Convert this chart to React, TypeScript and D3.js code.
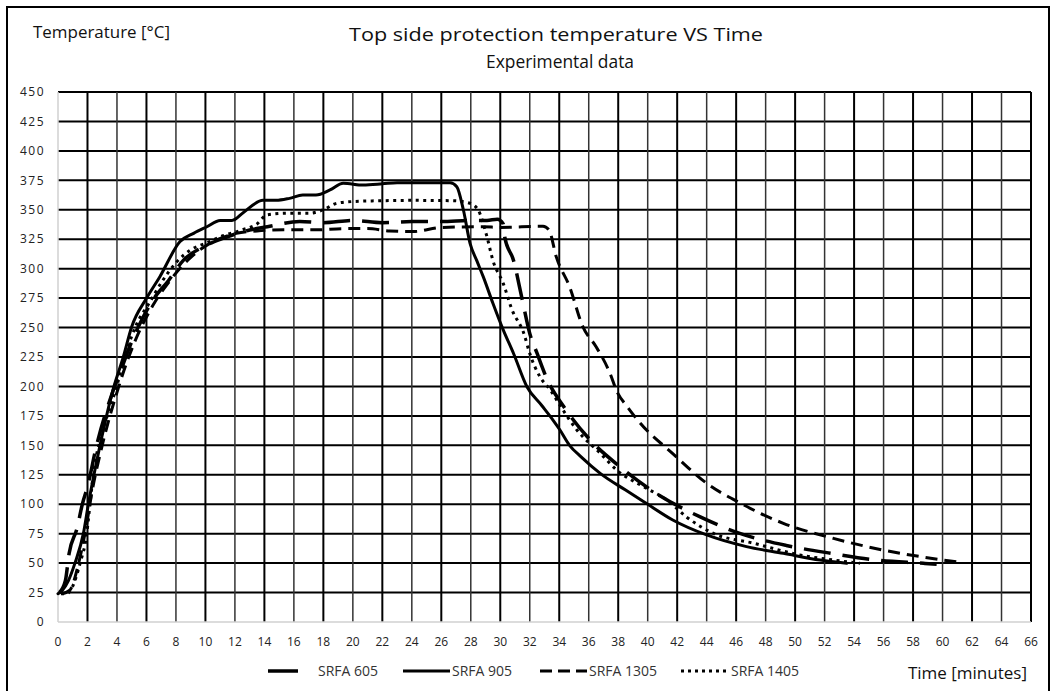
import React from "react";
import * as d3 from "d3";

const xTicks = d3.range(0, 67, 2);
const yTicks = d3.range(0, 451, 25);

const t605 = [0.1, 0.5, 0.75, 1.3, 1.65, 2.0, 2.62, 3.7, 4.3, 4.9, 5.5, 6.47, 7.5, 8.5, 9.86, 11.2, 13, 14.2, 16.4, 18, 20, 22, 24, 26, 28, 29.1, 29.8, 30.2, 30.3, 30.9, 31.5, 32.0, 32.5, 33.2, 34.3, 36.1, 38.1, 40.6, 43.6, 46.3, 49.4, 52.6, 55.5, 58.7, 59.6];
const v605 = [25, 35, 58, 80, 100, 115, 150, 195, 215, 235, 252, 274, 290, 307, 318.6, 325.8, 332.8, 335.6, 340, 339, 341, 339, 340, 340, 341, 341, 342, 338, 327, 307, 273, 245, 228, 205.5, 183, 154.5, 132, 109, 89, 75, 65, 58, 52.6, 49.8, 49];

const t905 = [0, 0.3, 0.7, 1.15, 1.72, 2.06, 2.85, 3.75, 4.43, 5.0, 6.0, 6.9, 8.28, 9.2, 10.1, 11.0, 11.8, 12.6, 13.9, 14.8, 15.7, 16.6, 17.5, 18.45, 19.35, 20.7, 22, 23, 25, 26.6, 27.05, 27.5, 27.95, 28.4, 28.85, 29.5, 30.2, 30.9, 31.8, 32.8, 33.6, 34.05, 34.7, 35.5, 36.8, 38.5, 39.9, 41.7, 44, 46.7, 49.2, 51.7, 53.5];
const v905 = [24, 27, 35, 50, 75, 100, 150, 198, 225, 250.7, 274.8, 293, 323, 330, 335.6, 341, 341, 348, 358, 358, 359.7, 362.5, 362.5, 366.8, 372.5, 371, 372, 373, 373, 373, 369.6, 349.8, 321.5, 307, 293, 270.6, 248, 228, 200, 184, 171, 163, 150, 140, 126, 112, 100.8, 86.6, 73.9, 64, 58.3, 52.6, 49.8];

const t1305 = [0.3, 0.8, 1.4, 1.9, 2.3, 3.0, 4.0, 4.8, 5.45, 6.4, 7.6, 8.95, 10.3, 12.1, 13.5, 15.3, 17.55, 19.35, 21, 22.5, 24.1, 26, 28.85, 30, 32.9, 33.3, 33.8, 34.7, 35.6, 36.5, 37.45, 37.9, 38.6, 39.5, 41.7, 44, 46.3, 49.2, 52.6, 56, 58.5, 61];
const v1305 = [24, 27, 50, 80, 110, 150, 195, 225, 245, 268, 290, 309, 321.5, 330, 332, 333, 333, 334, 334, 332, 331.5, 335, 335.6, 335, 336, 333, 310, 284.7, 250.7, 233.7, 211, 196, 183, 168.7, 143, 117.8, 100.8, 83.8, 71, 61, 55.5, 51];

const t1405 = [0.2, 0.6, 0.9, 1.5, 1.95, 2.17, 2.4, 3.0, 3.98, 4.6, 5.3, 6.2, 7.0, 8.0, 9.0, 10.1, 11.2, 12.5, 13.5, 14.16, 15.5, 17, 18, 18.9, 20, 22, 24, 26.8, 27.95, 28.5, 29.1, 29.5, 30.2, 30.8, 31.6, 32.0, 32.7, 33.4, 34.0, 35.2, 36.8, 37.9, 39.7, 41.3, 42.65, 44.5, 47.2, 50.3, 52.6, 54.4];
const v1405 = [24, 24, 28, 50, 75, 100, 126, 160, 200, 228, 252, 271, 288, 305, 316, 322, 328, 333, 338, 345.6, 347, 347, 350, 355.5, 357, 357.7, 358, 357.7, 355.5, 349.8, 327, 307, 287.5, 265, 245, 228, 208, 197, 185, 163, 143, 129, 115, 103.6, 89, 75, 66.8, 57, 52.6, 49.8];

const seriesNames = ["SRFA 605", "SRFA 905", "SRFA 1305", "SRFA 1405"];

const W = 1056;
const H = 691;
const left = 58, right = 1031, top = 92, bottom = 622;
const font = "'Open Sans', 'DejaVu Sans', sans-serif";

export default function App() {
  const x = d3.scaleLinear().domain([0, 66]).range([left, right]);
  const y = d3.scaleLinear().domain([0, 450]).range([bottom, top]);
  const line = d3
    .line<[number, number]>()
    .x((d) => x(d[0]))
    .y((d) => y(d[1]))
    .curve(d3.curveMonotoneX);

  const series = [
    { name: seriesNames[0], t: t605, v: v605, dash: "27,12", legDash: "none", w: 3.5, cap: "butt" },
    { name: seriesNames[1], t: t905, v: v905, dash: "none", legDash: "none", w: 3, cap: "round" },
    { name: seriesNames[2], t: t1305, v: v1305, dash: "12,7", legDash: "12,6", w: 3, cap: "butt" },
    { name: seriesNames[3], t: t1405, v: v1405, dash: "3,4.5", legDash: "3,4", w: 3, cap: "butt" },
  ];

  const legend = [
    { x1: 268, x2: 298, tx: 318 },
    { x1: 403, x2: 450, tx: 452 },
    { x1: 540, x2: 587, tx: 589 },
    { x1: 681, x2: 729, tx: 731 },
  ];

  return (
    <svg width={W} height={H} style={{ position: "absolute", left: 0, top: 0, background: "#fff" }}>
      <rect x={0} y={0} width={W} height={H} fill="#fff" />
      <rect x={7} y={7} width={1042} height={720} fill="none" stroke="#000" strokeWidth={2} />

      <text x={33} y={38} fontFamily={font} fontSize={16} fill="#111" textLength={137} lengthAdjust="spacingAndGlyphs">
        Temperature [°C]
      </text>
      <text x={349} y={41} fontFamily={font} fontSize={18.5} fill="#111" textLength={414} lengthAdjust="spacingAndGlyphs">
        Top side protection temperature VS Time
      </text>
      <text x={486} y={68} fontFamily={font} fontSize={18.5} fill="#111" textLength={148} lengthAdjust="spacingAndGlyphs">
        Experimental data
      </text>

      {/* grid */}
      {yTicks.filter((v) => v > 0).map((v) => (
        <line key={"h" + v} x1={left} x2={right} y1={y(v)} y2={y(v)} stroke="#000" strokeWidth={2} />
      ))}
      {xTicks.filter((t) => t > 0).map((t, i) => (
        <line key={"v" + t} x1={x(t)} x2={x(t)} y1={top} y2={bottom} stroke={i % 2 === 0 ? "#000" : "#333"} strokeWidth={i % 2 === 0 ? 2 : 1.5} />
      ))}
      <line x1={left} x2={right} y1={bottom} y2={bottom} stroke="#d0d0d0" strokeWidth={1.5} />
      <line x1={left} x2={left} y1={top} y2={bottom} stroke="#d0d0d0" strokeWidth={1.5} />

      {yTicks.map((v) => (
        <text key={"yl" + v} x={45} y={y(v)} dy="0.35em" textAnchor="end" fontFamily={font} fontSize={12} letterSpacing={1.5} fill="#222">
          {v}
        </text>
      ))}
      {xTicks.map((t) => (
        <text key={"xl" + t} x={x(t)} y={645.5} textAnchor="middle" fontFamily={font} fontSize={12} fill="#222">
          {t}
        </text>
      ))}

      {series.map((s) => (
        <path
          key={s.name}
          d={line(s.t.map((t, i) => [t, s.v[i]] as [number, number])) || ""}
          fill="none"
          stroke="#000"
          strokeWidth={s.w}
          strokeDasharray={s.dash}
          strokeLinecap={s.cap as any}
          strokeLinejoin="round"
        />
      ))}

      {series.map((s, i) => (
        <g key={"lg" + s.name}>
          <line x1={legend[i].x1} x2={legend[i].x2} y1={671} y2={671} stroke="#000" strokeWidth={s.w} strokeDasharray={s.legDash} />
          <text x={legend[i].tx} y={671} dy="0.35em" fontFamily={font} fontSize={14} fill="#333">
            {s.name}
          </text>
        </g>
      ))}

      <text x={1027} y={679} textAnchor="end" fontFamily={font} fontSize={17} fill="#111">
        Time  [minutes]
      </text>
    </svg>
  );
}
